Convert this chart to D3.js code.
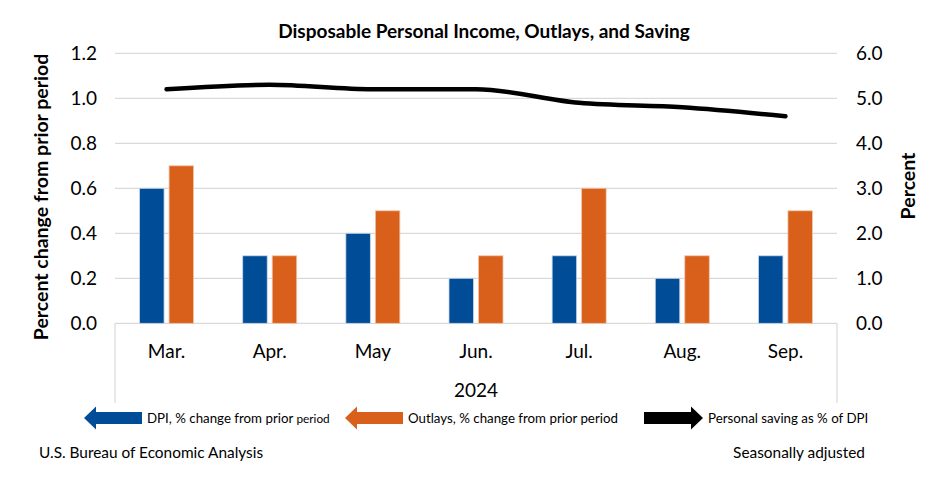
<!DOCTYPE html>
<html><head><meta charset="utf-8">
<script src="https://cdn.jsdelivr.net/npm/d3@7"></script>
<style>body{margin:0;background:#fff}svg{font-family:Lato,"Open Sans",sans-serif}</style>
</head><body><svg id="c" width="933" height="490"></svg>
<script>
const months = ["Mar.","Apr.","May","Jun.","Jul.","Aug.","Sep."];
const dpi = [0.6,0.3,0.4,0.2,0.3,0.2,0.3];
const outlays = [0.7,0.3,0.5,0.3,0.6,0.3,0.5];
const saving = [5.2,5.3,5.2,5.2,4.9,4.8,4.6];
const leftTicks = [0,0.2,0.4,0.6,0.8,1.0,1.2];
const rightTicks = [0,1,2,3,4,5,6];

const svg = d3.select("#c");
const L=115,R=837,T=53.3,B=323.3;
const x = d3.scaleBand().domain(months).range([L,R]);
const yL = d3.scaleLinear().domain([0,1.2]).range([B,T]);
const yR = d3.scaleLinear().domain([0,6]).range([B,T]);
const blue="#004C97", orange="#D9601A";

svg.append("g").selectAll("line").data(leftTicks.slice(1)).join("line")
 .attr("x1",L).attr("x2",R).attr("y1",d=>yL(d)).attr("y2",d=>yL(d))
 .attr("stroke","#d9d9d9").attr("stroke-width",1.2);

svg.append("line").attr("x1",L).attr("x2",R).attr("y1",B).attr("y2",B).attr("stroke","#d9d9d9").attr("stroke-width",1.2);
svg.append("line").attr("x1",L).attr("x2",L).attr("y1",B).attr("y2",403).attr("stroke","#d9d9d9").attr("stroke-width",1.2);
svg.append("line").attr("x1",R).attr("x2",R).attr("y1",B).attr("y2",403).attr("stroke","#d9d9d9").attr("stroke-width",1.2);

const bw=24.5, gap=5;
const g = svg.append("g");
g.selectAll(".b").data(months).join("rect")
 .attr("x",d=>x(d)+x.bandwidth()/2-gap/2-bw).attr("width",bw)
 .attr("y",(d,i)=>yL(dpi[i])).attr("height",(d,i)=>B-yL(dpi[i]))
 .attr("fill",blue).attr("stroke","#c9d6e8").attr("stroke-width",0.8);
g.selectAll(".o").data(months).join("rect")
 .attr("x",d=>x(d)+x.bandwidth()/2+gap/2).attr("width",bw)
 .attr("y",(d,i)=>yL(outlays[i])).attr("height",(d,i)=>B-yL(outlays[i]))
 .attr("fill",orange).attr("stroke","#f0c4a8").attr("stroke-width",0.8);

const line = d3.line().x((d,i)=>x(months[i])+x.bandwidth()/2).y(d=>yR(d)).curve(d3.curveMonotoneX);
svg.append("path").datum(saving).attr("d",line).attr("fill","none").attr("stroke","#000").attr("stroke-width",4.5).attr("stroke-linecap","round");

svg.append("g").selectAll("text").data(leftTicks).join("text")
 .attr("x",97).attr("y",d=>yL(d)+6.5).attr("text-anchor","end").attr("font-size",19).attr("fill","#000")
 .text(d=>d.toFixed(1));
svg.append("g").selectAll("text").data(rightTicks).join("text")
 .attr("x",856).attr("y",d=>yR(d)+6.5).attr("text-anchor","start").attr("font-size",19).attr("fill","#000")
 .text(d=>d.toFixed(1));

svg.append("g").selectAll("text").data(months).join("text")
 .attr("x",d=>x(d)+x.bandwidth()/2).attr("y",358).attr("text-anchor","middle").attr("font-size",19)
 .text(d=>d);
svg.append("text").attr("x",(L+R)/2).attr("y",397).attr("text-anchor","middle").attr("font-size",19).text("2024");

svg.append("text").attr("x",484).attr("y",38).attr("text-anchor","middle").attr("font-size",19).attr("font-weight","bold").text("Disposable Personal Income, Outlays, and Saving");

svg.append("text").attr("transform","translate(48,197) rotate(-90)").attr("text-anchor","middle").attr("font-size",19.5).attr("font-weight","bold").text("Percent change from prior period");
svg.append("text").attr("transform","translate(915,186) rotate(-90)").attr("text-anchor","middle").attr("font-size",19.5).attr("font-weight","bold").text("Percent");

function arrowLeft(x0,x1){
  const yc=418, hh=11.5, sh=6, hw=12;
  return [[x0,yc],[x0+hw,yc-hh],[x0+hw,yc-sh],[x1,yc-sh],[x1,yc+sh],[x0+hw,yc+sh],[x0+hw,yc+hh]];
}
function arrowRight(x0,x1){
  const yc=418, hh=11.5, sh=6, hw=12;
  return [[x0,yc-sh],[x1-hw,yc-sh],[x1-hw,yc-hh],[x1,yc],[x1-hw,yc+hh],[x1-hw,yc+sh],[x0,yc+sh]];
}
svg.append("polygon").attr("points",arrowLeft(84,142).join(" ")).attr("fill",blue);
svg.append("polygon").attr("points",arrowLeft(345,403).join(" ")).attr("fill",orange);
svg.append("polygon").attr("points",arrowRight(644,703).join(" ")).attr("fill","#000");
const t1=svg.append("text").attr("x",147).attr("y",423).attr("font-size",13.3);
t1.append("tspan").text("DPI, % change from prior ");
t1.append("tspan").attr("font-size",11.8).text("period");
svg.append("text").attr("x",408).attr("y",423).attr("font-size",13.3).text("Outlays, % change from prior period");
svg.append("text").attr("x",708).attr("y",423).attr("font-size",13.3).text("Personal saving as % of DPI");

svg.append("text").attr("x",39).attr("y",458).attr("font-size",15.4).text("U.S. Bureau of Economic Analysis");
svg.append("text").attr("x",865).attr("y",458).attr("text-anchor","end").attr("font-size",15.4).text("Seasonally adjusted");
</script></body></html>
